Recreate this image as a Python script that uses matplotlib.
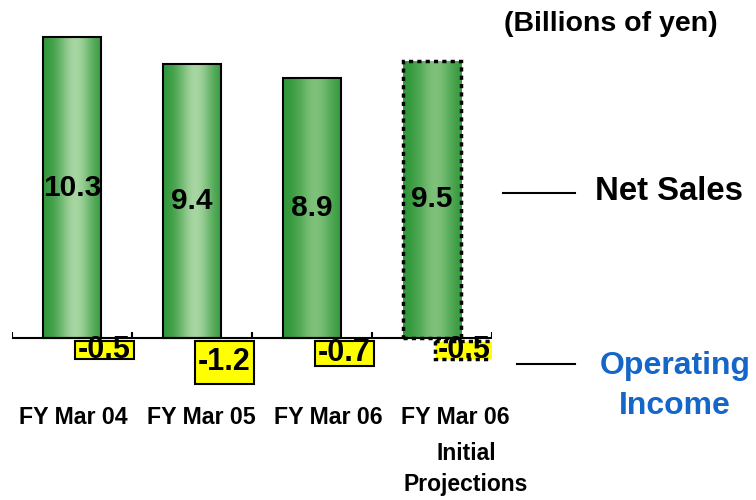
import numpy as np
import matplotlib.pyplot as plt
from matplotlib.colors import to_rgb

# data (billions of yen)
periods = ["FY Mar 04", "FY Mar 05", "FY Mar 06", "FY Mar 06"]
net_sales = [10.3, 9.4, 8.9, 9.5]
operating_income = [-0.5, -1.2, -0.7, -0.5]
is_projection = [False, False, False, True]
bar_highlight = ["#a8d6a2", "#a8d6a2", "#7fc17a", "#7fc17a"]

plt.rcParams["font.family"] = ["Liberation Sans", "DejaVu Sans"]
plt.rcParams["font.weight"] = "bold"

W, H = 756, 500


def px(x, y):
    # pixel position -> figure fraction
    return x / W, 1 - y / H


def gradient_bar(axis, x, h, w, dark, light, bottom=0.0, ls="-", lw=1.5):
    bar = axis.bar(x, h, w, bottom=bottom, color="none", edgecolor="black",
                   linewidth=lw, linestyle=ls, zorder=3)[0]
    t = np.linspace(0, 1, 200)
    k = np.exp(-((t - 0.55) / 0.3) ** 2)
    d, l = np.array(to_rgb(dark)), np.array(to_rgb(light))
    img = d + (l - d) * k[:, None]
    im = axis.imshow(img[None, :, :], extent=(x - w / 2, x + w / 2, bottom, bottom + h),
                     aspect="auto", zorder=2, interpolation="bilinear")
    im.set_clip_path(bar)
    return bar


fig = plt.figure(figsize=(W / 100, H / 100), dpi=100)
ax = fig.add_axes([12 / W, 1 - 396.4 / H, 480 / W, 379.6 / H])
ax2 = ax.twinx()
ax.axis("off")
ax2.axis("off")

x = np.arange(len(periods))
bw = 0.49
op_scale = 1.22

for i, (ns, oi) in enumerate(zip(net_sales, operating_income)):
    ls = (0, (1.2, 1.2)) if is_projection[i] else "-"
    lw = 2.5 if is_projection[i] else 1.5
    gradient_bar(ax, x[i], ns, bw, "#2e9638", bar_highlight[i], ls=ls, lw=lw)
    ax.text(x[i], ns / 2, f"{ns:.1f}", ha="center", va="center", fontsize=21.5,
            fontweight="bold", zorder=5)
    # operating income boxes (own scale)
    off = x[i] + 0.27
    bottom = -0.08
    ax2.bar(off, oi, bw, bottom=bottom, color="#ffff00", edgecolor="black",
            linewidth=lw, linestyle=ls, zorder=3)
    ax2.text(off, bottom + oi / 2, f"{oi:.1f}", ha="center", va="center",
             fontsize=22, fontweight="bold", zorder=5)

# baseline with category separators
ax.hlines(0, -0.5, len(periods) - 0.5, color="black", linewidth=1.5, zorder=4)
ax.vlines(np.arange(-0.5, len(periods)), 0, 0.2, color="black", linewidth=1.5, zorder=4)

ax.set_xlim(-0.5, len(periods) - 0.5)
ax.set_ylim(-2, 11)
ax2.set_ylim(-2 / op_scale, 11 / op_scale)

# category labels
label_x = [73, 201, 328, 455]
for lx, name in zip(label_x, periods):
    fig.text(*px(lx, 417), name, ha="center", va="center", fontsize=16.7, fontweight="bold")
fig.text(*px(466, 454), "Initial", ha="center", va="center", fontsize=16.5, fontweight="bold")
fig.text(*px(466, 484), "Projections", ha="center", va="center", fontsize=16.5, fontweight="bold")

# unit and legend-like annotations
fig.text(*px(611, 24), "(Billions of yen)", ha="center", va="center", fontsize=20.5, fontweight="bold")
fig.add_artist(plt.Line2D([503 / W, 575 / W], [1 - 193 / H] * 2, color="black", linewidth=1.5))
fig.text(*px(595, 192), "Net Sales", ha="left", va="center", fontsize=23.7, fontweight="bold")
fig.add_artist(plt.Line2D([517 / W, 575 / W], [1 - 364 / H] * 2, color="black", linewidth=1.5))
fig.text(*px(675, 366), "Operating", ha="center", va="center", fontsize=23,
         fontweight="bold", color="#1466c8")
fig.text(*px(675, 406), "Income", ha="center", va="center", fontsize=23,
         fontweight="bold", color="#1466c8")

fig.savefig("out.png", dpi=100)
